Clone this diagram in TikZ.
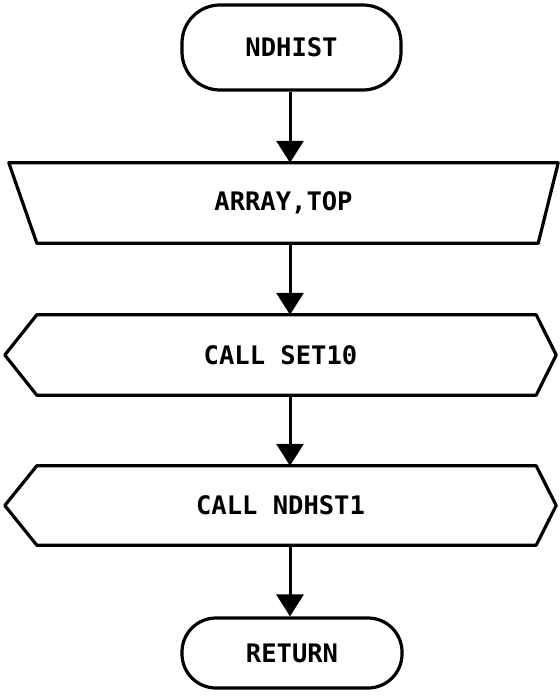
\documentclass[tikz,border=0pt]{standalone}
\usepackage{fontspec}
\newfontfamily\chartfont{DejaVu Sans Mono}
\usetikzlibrary{arrows.meta}
\begin{document}
\begin{tikzpicture}[x=1pt,y=-1pt,
  outline/.style={line width=3.2pt,line join=round},
  box/.style={inner sep=0pt,font=\chartfont\bfseries\fontsize{25.5}{30}\selectfont},
  terminal/.style={box,draw,line width=3.2pt,rounded corners=38pt},
  flow/.style={line width=3pt,-{Triangle[length=22pt,width=27pt]}}]
\useasboundingbox (0,0) rectangle (559,700);
\node[terminal,minimum width=219pt,minimum height=85pt] (start) at (291.5,47.5) {NDHIST};
\node[box,minimum width=549pt,minimum height=80pt] (in) at (283.5,203) {ARRAY,TOP};
\draw[outline] (in.north west) -- (in.north east) -- ([xshift=-20pt]in.south east) -- ([xshift=28pt]in.south west) -- cycle;
\node[box,minimum width=551pt,minimum height=80pt] (c1) at (280.5,355) {CALL SET10};
\draw[outline] ([xshift=32pt]c1.north west) -- ([xshift=-20pt]c1.north east) -- (c1.east) -- ([xshift=-20pt]c1.south east) -- ([xshift=32pt]c1.south west) -- (c1.west) -- cycle;
\node[box,minimum width=551pt,minimum height=79pt] (c2) at (280.5,505.5) {CALL NDHST1};
\draw[outline] ([xshift=32pt]c2.north west) -- ([xshift=-20pt]c2.north east) -- (c2.east) -- ([xshift=-20pt]c2.south east) -- ([xshift=32pt]c2.south west) -- (c2.west) -- cycle;
\node[terminal,minimum width=220pt,minimum height=70pt,rounded corners=34pt] (end) at (292,653) {RETURN};
\draw[flow] ([xshift=-1.5pt]start.south) -- ([xshift=-1.5pt]start.south |- in.north);
\draw[flow] ([xshift=6.5pt]in.south) -- ([xshift=6.5pt]in.south |- c1.north);
\draw[flow] ([xshift=9.5pt]c1.south) -- ([xshift=9.5pt]c1.south |- c2.north);
\draw[flow] ([xshift=9.5pt]c2.south) -- ([xshift=9.5pt]c2.south |- end.north);
\end{tikzpicture}
\end{document}
